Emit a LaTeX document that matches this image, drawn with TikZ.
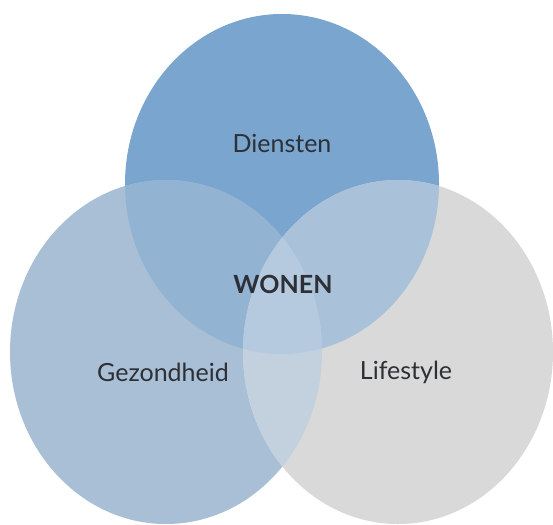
\documentclass[tikz,border=0pt]{standalone}
\usepackage{fontspec}
\setmainfont{Lato}
\definecolor{topc}{RGB}{122,165,206}
\definecolor{leftc}{RGB}{168,191,213}
\definecolor{rightc}{RGB}{217,217,217}
\definecolor{tlc}{RGB}{147,179,211}
\definecolor{trc}{RGB}{169,193,217}
\definecolor{lrc}{RGB}{195,209,222}
\definecolor{allc}{RGB}{181,202,222}
\definecolor{txt}{RGB}{45,48,54}
\begin{document}
\begin{tikzpicture}[x=1pt,y=-1pt,
  lbl/.style={text=txt,font=\fontsize{25}{30}\selectfont,inner sep=0pt},
  bold/.style={text=txt,font=\bfseries\fontsize{25}{30}\selectfont,inner sep=0pt}]
\useasboundingbox (0,0) rectangle (553,524);
\clip (0,0) rectangle (553,524);
\def\topE{(282,184) ellipse [x radius=157, y radius=170]}
\def\leftE{(166,352) ellipse [x radius=156, y radius=172]}
\def\rightE{(398,352) ellipse [x radius=155, y radius=172]}
\fill[topc] \topE;
\fill[leftc] \leftE;
\fill[rightc] \rightE;
\begin{scope}\clip \topE; \fill[tlc] \leftE; \fill[trc] \rightE; \end{scope}
\begin{scope}\clip \leftE; \fill[lrc] \rightE; \end{scope}
\begin{scope}\clip \topE; \clip \leftE; \fill[allc] \rightE; \end{scope}
\node[lbl] (diensten) at (282,143) {Diensten};
\node[bold] (wonen) at (283,284) {WONEN};
\node[lbl] (gezondheid) at (163,372) {Gezondheid};
\node[lbl] (lifestyle) at (406,372) {Lifestyle};
\end{tikzpicture}
\end{document}
